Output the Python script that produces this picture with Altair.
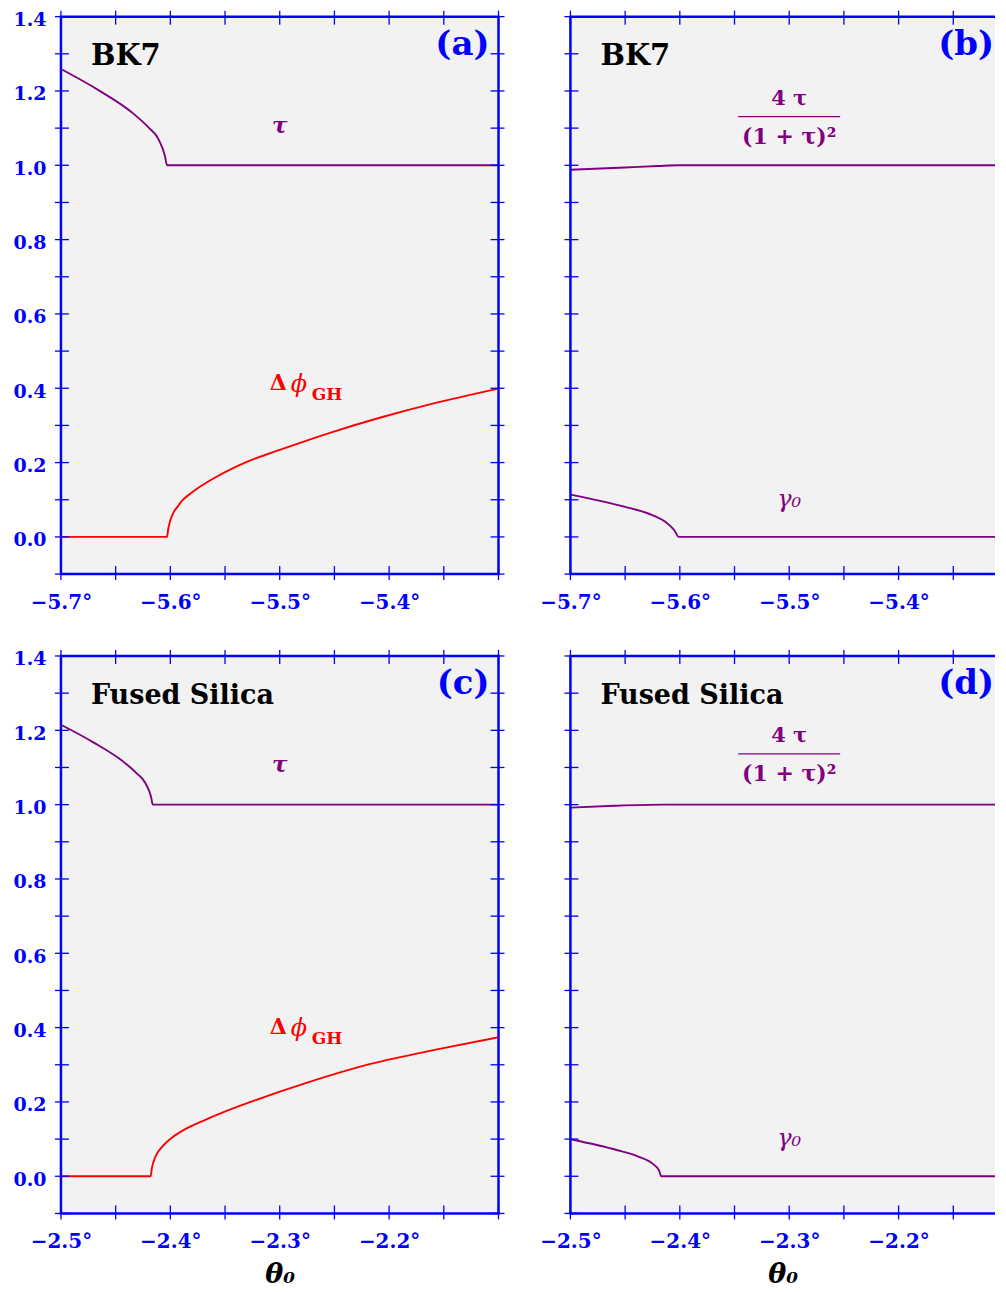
import altair as alt
import pandas as pd

BLUE = "#0000ff"
PURPLE = "#800080"
RED = "#ff0000"
SERIF = "DejaVu Serif"
W, H = 438, 558
WR = 425  # right panels are cut by the page edge

# ---------------- data ----------------
# (a) BK7
a_tau_t = [-5.700, -5.665, -5.635, -5.620, -5.611, -5.605, -5.603, -5.500, -5.400, -5.300]
a_tau_v = [1.259, 1.201, 1.142, 1.102, 1.071, 1.026, 1.000, 1.000, 1.000, 1.000]
a_dphi_t = [-5.700, -5.650, -5.603, -5.602, -5.600, -5.597, -5.593, -5.589, -5.581, -5.574,
            -5.559, -5.544, -5.529, -5.498, -5.452, -5.407, -5.361, -5.300]
a_dphi_v = [0.000, 0.000, 0.000, 0.020, 0.045, 0.066, 0.083, 0.098, 0.118, 0.133,
            0.160, 0.183, 0.203, 0.236, 0.282, 0.322, 0.358, 0.399]
# (b) BK7
b_frac_t = [-5.700, -5.650, -5.620, -5.601, -5.500, -5.400, -5.300]
b_frac_v = [0.988, 0.994, 0.998, 1.000, 1.000, 1.000, 1.000]
b_gam_t = [-5.700, -5.650, -5.629, -5.613, -5.605, -5.601, -5.500, -5.400, -5.300]
b_gam_v = [0.114, 0.081, 0.063, 0.040, 0.018, 0.000, 0.000, 0.000, 0.000]
# (c) Fused Silica
c_tau_t = [-2.500, -2.470, -2.444, -2.431, -2.423, -2.4177, -2.416, -2.300, -2.200, -2.100]
c_tau_v = [1.215, 1.167, 1.118, 1.085, 1.059, 1.022, 1.000, 1.000, 1.000, 1.000]
c_dphi_t = [-2.500, -2.450, -2.418, -2.417, -2.415, -2.412, -2.408, -2.403, -2.398, -2.388,
            -2.368, -2.345, -2.322, -2.277, -2.216, -2.155, -2.100]
c_dphi_v = [0.000, 0.000, 0.000, 0.020, 0.042, 0.062, 0.078, 0.093, 0.105, 0.124,
            0.152, 0.180, 0.205, 0.250, 0.303, 0.342, 0.374]
# (d) Fused Silica
d_frac_t = [-2.500, -2.460, -2.415, -2.300, -2.200, -2.100]
d_frac_v = [0.992, 0.997, 1.000, 1.000, 1.000, 1.000]
d_gam_t = [-2.500, -2.457, -2.438, -2.425, -2.419, -2.417, -2.300, -2.200, -2.100]
d_gam_v = [0.0995, 0.070, 0.053, 0.034, 0.016, 0.000, 0.000, 0.000, 0.000]

# ticks and labels
XT_BK7 = [-5.70, -5.65, -5.60, -5.55, -5.50, -5.45, -5.40, -5.35, -5.30]
XL_BK7 = [-5.7, -5.6, -5.5, -5.4]
XT_FS = [-2.50, -2.45, -2.40, -2.35, -2.30, -2.25, -2.20, -2.15, -2.10]
XL_FS = [-2.5, -2.4, -2.3, -2.2]
YT = [-0.1, 0.0, 0.1, 0.2, 0.3, 0.4, 0.5, 0.6, 0.7, 0.8, 0.9, 1.0, 1.1, 1.2, 1.3, 1.4]
YL = [0.0, 0.2, 0.4, 0.6, 0.8, 1.0, 1.2, 1.4]


def txt(s, x, y, size, color, weight="bold", style="normal", align="center", font=SERIF):
    return alt.Chart(pd.DataFrame({"s": [s]})).mark_text(
        align=align, baseline="alphabetic", fontSize=size, font=font,
        fontWeight=weight, fontStyle=style, color=color
    ).encode(x=alt.value(x), y=alt.value(y), text="s:N")


def one():
    return alt.Chart(pd.DataFrame({"s": [0]}))


def panel(xdom, xticks, xlabels, series, name, letter, left, bottom):
    width = W if left else WR
    dom = [xdom[0], xdom[0] + (xdom[1] - xdom[0]) * width / W]
    xticks = [t for t in xticks if t <= dom[1] + 1e-9]
    xaxis = alt.Axis(
        values=xlabels, ticks=False, domain=False, grid=False, tickSize=0,
        labelExpr="replace(format(datum.value, '.1f'), '-', '−\u2005') + '°'",
        labelFont=SERIF, labelFontSize=20, labelFontWeight="bold", labelColor=BLUE,
        labelPadding=18, labelFlush=False,
        title="θ₀" if bottom else None,
        titleFont=SERIF, titleFontSize=27, titleFontWeight="bold", titleFontStyle="italic",
        titleColor="black", titlePadding=10,
    )
    yaxis = alt.Axis(
        values=YL, ticks=False, domain=False, grid=False, tickSize=0,
        format=".1f", labels=left, labelOffset=3,
        labelFont=SERIF, labelFontSize=19, labelFontWeight="bold", labelColor=BLUE,
        labelPadding=15, title=None,
    )
    X = alt.X("theta:Q", scale=alt.Scale(domain=dom, nice=False, zero=False), axis=xaxis)
    Y = alt.Y("v:Q", scale=alt.Scale(domain=[-0.1, 1.4], nice=False, zero=False), axis=yaxis)

    layers = []
    for t, v, col in series:
        df = pd.DataFrame({"theta": t, "v": v})
        layers.append(alt.Chart(df).mark_line(color=col, strokeWidth=1.9,
                                              interpolate="monotone", clip=True)
                      .encode(x=X, y=Y))

    ydf = pd.DataFrame({"v": YT})
    xdf = pd.DataFrame({"theta": xticks})
    tick = dict(color=BLUE, strokeWidth=1.3)
    layers.append(alt.Chart(ydf).mark_rule(**tick).encode(y=Y, x=alt.value(-6), x2=alt.value(8)))
    if left:
        layers.append(alt.Chart(ydf).mark_rule(**tick).encode(y=Y, x=alt.value(W - 8), x2=alt.value(W + 6)))
    else:
        frame = dict(color=BLUE, strokeWidth=2.5)
        layers.append(one().mark_rule(**frame).encode(x=alt.value(0), y=alt.value(-1), y2=alt.value(H + 1)))
        layers.append(one().mark_rule(**frame).encode(x=alt.value(0), x2=alt.value(WR), y=alt.value(0)))
        layers.append(one().mark_rule(**frame).encode(x=alt.value(0), x2=alt.value(WR), y=alt.value(H)))
    layers.append(alt.Chart(xdf).mark_rule(**tick).encode(x=X, y=alt.value(H - 8), y2=alt.value(H + 6)))
    layers.append(alt.Chart(xdf).mark_rule(**tick).encode(x=X, y=alt.value(-6), y2=alt.value(8)))

    layers.append(txt(name, 30, 48, 29 if name == "BK7" else 27, "black", align="left"))
    layers.append(txt(letter, 429 if left else WR - 1, 38, 34, BLUE, align="right"))

    if left:
        layers.append(txt("τ", 219, 116, 23, PURPLE, style="italic"))
        dy = 0 if name == "BK7" else 4
        layers.append(txt("Δ", 209, 374 + dy, 22, RED, align="left"))
        layers.append(txt("ϕ", 230, 376 + dy, 24, RED, weight="normal", style="italic", align="left"))
        layers.append(txt("GH", 251, 384 + dy, 17, RED, align="left"))
    else:
        dy = 0 if name == "BK7" else -2
        layers.append(txt("4 τ", 219, 88 + dy, 21, PURPLE))
        layers.append(one().mark_rule(color=PURPLE, strokeWidth=1.2)
                      .encode(x=alt.value(168), x2=alt.value(270), y=alt.value(100 + dy)))
        layers.append(txt("(1 + τ)²", 219, 127 + dy, 22, PURPLE))
        layers.append(txt("γ₀", 219, 491, 24, PURPLE, weight="normal", style="italic"))

    ch = alt.layer(*layers).properties(width=width, height=H)
    if not left:
        ch = ch.properties(view=alt.ViewBackground(fill="#f2f2f2", stroke="transparent"))
    return ch


pa = panel([-5.7, -5.3], XT_BK7, XL_BK7,
           [(a_tau_t, a_tau_v, PURPLE), (a_dphi_t, a_dphi_v, RED)], "BK7", "(a)", True, False)
pb = panel([-5.7, -5.3], XT_BK7, XL_BK7,
           [(b_frac_t, b_frac_v, PURPLE), (b_gam_t, b_gam_v, PURPLE)], "BK7", "(b)", False, False)
pc = panel([-2.5, -2.1], XT_FS, XL_FS,
           [(c_tau_t, c_tau_v, PURPLE), (c_dphi_t, c_dphi_v, RED)], "Fused Silica", "(c)", True, True)
pd_ = panel([-2.5, -2.1], XT_FS, XL_FS,
            [(d_frac_t, d_frac_v, PURPLE), (d_gam_t, d_gam_v, PURPLE)], "Fused Silica", "(d)", False, True)

chart = alt.concat(pa, pb, pc, pd_, columns=2, spacing={"row": 82, "column": 72}, bounds="flush") \
    .properties(padding={"left": 3, "top": 0, "right": 0, "bottom": 0}) \
    .configure_view(fill="#f2f2f2", stroke=BLUE, strokeWidth=2.5)

chart.save("out.html", embed_options={"renderer": "svg", "actions": False})
